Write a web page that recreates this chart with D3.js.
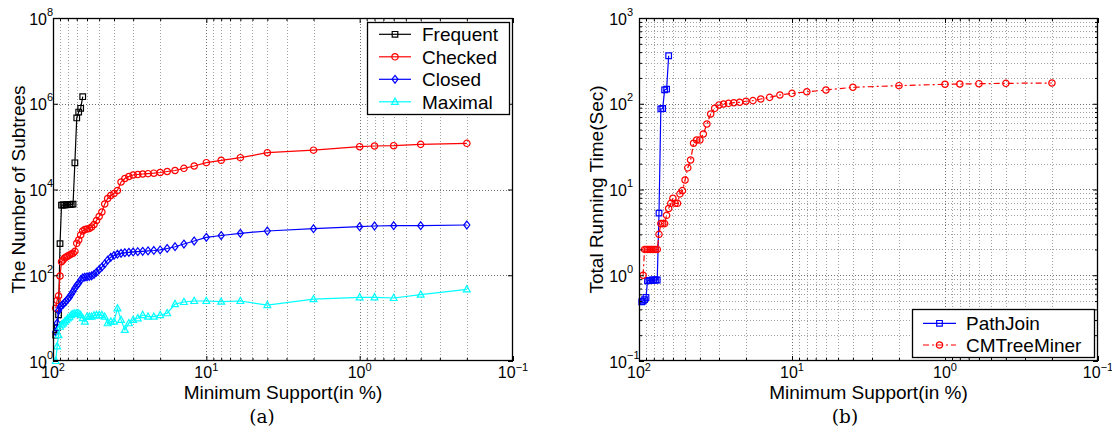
<!DOCTYPE html>
<html><head><meta charset="utf-8">
<script src="https://cdn.jsdelivr.net/npm/d3@7"></script>
<style>
html,body{margin:0;padding:0;background:#fff;}
svg{display:block;}
text{font-family:"Liberation Sans",Arial,Helvetica,sans-serif;fill:#000;}
</style></head>
<body>
<svg id="chart" width="1112" height="432"></svg>
<script>
// ---------- data ----------
const supportA = [96,94,92,90,88,86,84,82,80,78,76,74,72,70,68,66,64,62,60,58,56,54,52,50,48,46,44,42,40,38,36,34,32,30,28,26,24,22,20,18,16,14,12,10,8,6,4,2,1,0.8,0.6,0.4,0.2];
const frequentSupport = [96,94,92,90,88,86,84,82,80,78,76,74,72,70,68,66,64];
const frequentValues = [4,6,12,546,4300,4350,4400,4400,4450,4450,4500,4550,42000,466000,640000,783000,1460000];
const checkedValues = [17,26,33,96,207,227,253,267,281,296,313,325,360,556,664,868,1077,1166,1200,1233,1335,1527,1890,2345,2988,4590,6170,7240,8070,9480,14960,18070,20100,21800,22400,23000,23400,24000,24900,26300,27700,31200,35300,42200,48000,55200,72100,82600,99600,103500,105000,113000,119500];
const closedValues = [4.8,7.6,15,18,19.5,21,23,25,28,31,36,42,50,58,65,78,87,90,92,94,97,105,118,135,155,185,225,262,290,310,325,335,342,350,355,362,370,378,390,421,463,535,629,767,845,951,1077,1218,1356,1408,1430,1430,1486];
const maximalValues = [1,2.2,4,6.3,7,7.5,8.3,9,9.9,10.5,11.8,12.5,12.9,12.9,12.9,11.8,10,8.3,10.8,10.8,10.8,11.5,11.8,11.8,11.8,10.8,7.6,8.3,8.3,16.9,9.1,5.3,7.6,9.1,9.9,11.8,10.8,10.8,11.8,13,21.3,23.8,25.1,25.1,24.2,25.1,20.2,27.6,30.6,30.6,29.5,35.2,47];

const pathJoinSupport = [96,94,92,90,88,86,84,82,80,78,76,74,72,70,68,66,64];
const pathJoinValues = [0.49,0.5,0.52,0.55,0.86,0.87,0.87,0.88,0.88,0.88,0.88,5.3,87,88,145,148,363];
const cmSupport = [94,92,90,88,86,84,82,80,78,76,74,72,70,68,66,64,62,60,58,56,54,52,50,48,46,44,42,40,38,36,34,32,30,28,26,24,22,20,18,16,14,12,10,8,6,4,2,1,0.8,0.6,0.4,0.2];
const cmValues = [1.0,2,2,2,2,2,2,2,2,2,3.0,4,4,4,5,6,6.9,7.9,6.9,6.9,8.9,9.7,12.9,17.9,22.1,34.6,37.8,37.8,44.4,58,76,88.5,96.8,99.4,101,102.8,104,107,108.7,113.6,118.8,126.5,132,138,144.6,155.6,162.5,168.7,170,171.3,173,174.6];

const xTickExps = [2,1,0,-1];
const yTickExpsA = [0,2,4,6,8];
const yTickExpsB = [-1,0,1,2,3];
const xLabel = "Minimum Support(in %)";
const yLabelA = "The Number of Subtrees";
const yLabelB = "Total Running Time(Sec)";
const legendA = ["Frequent","Checked","Closed","Maximal"];
const legendB = ["PathJoin","CMTreeMiner"];

// ---------- drawing ----------
const svg = d3.select("#chart");

function markerPath(type){
  if(type==="square") return "M-2.8,-2.8H2.8V2.8H-2.8Z";
  if(type==="circle") return d3.symbol(d3.symbolCircle, 32)();
  if(type==="diamond") return "M0,-3.9L3,0L0,3.9L-3,0Z";
  if(type==="triangle") return "M0,-3.7L3.4,2.5L-3.4,2.5Z";
}

function supText(e){ return e<0 ? "\u2212"+(-e) : String(e); }

function panel(cfg){
  const g = svg.append("g");
  const x = d3.scaleLog().domain([100,0.1]).range([cfg.x0,cfg.x1]);
  const y = d3.scaleLog().domain(cfg.yDomain).range([cfg.y1,cfg.y0]);

  const xMinor = [];
  [1,0,-1].forEach(e=>{ for(let k=2;k<=9;k++) xMinor.push(k*Math.pow(10,e)); });
  const xMajor = [10,1];
  const gridG = g.append("g");
  const gl = (sel,color)=>sel.attr("stroke",color).attr("stroke-width",1).attr("stroke-dasharray","1,2");
  gl(gridG.selectAll(".vmin").data(xMinor).join("line")
    .attr("x1",d=>Math.round(x(d))+0.5).attr("x2",d=>Math.round(x(d))+0.5)
    .attr("y1",cfg.y0).attr("y2",cfg.y1),"#a0a0a0");
  gl(gridG.selectAll(".vmaj").data(xMajor).join("line")
    .attr("x1",d=>Math.round(x(d))+0.5).attr("x2",d=>Math.round(x(d))+0.5)
    .attr("y1",cfg.y0).attr("y2",cfg.y1),"#707070");
  gl(gridG.selectAll(".hmaj").data(cfg.yGridMajor).join("line")
    .attr("y1",d=>Math.round(y(d))+0.5).attr("y2",d=>Math.round(y(d))+0.5)
    .attr("x1",cfg.x0).attr("x2",cfg.x1),"#707070");
  gl(gridG.selectAll(".hmin").data(cfg.yGridMinor).join("line")
    .attr("y1",d=>Math.round(y(d))+0.5).attr("y2",d=>Math.round(y(d))+0.5)
    .attr("x1",cfg.x0).attr("x2",cfg.x1),"#a0a0a0");

  // series
  cfg.series.forEach(s=>{
    const pts = s.support.map((sv,i)=>[sv,s.values[i]]);
    g.append("path").datum(pts)
      .attr("fill","none").attr("stroke",s.color).attr("stroke-width",1.2)
      .attr("stroke-dasharray",s.dash||null)
      .attr("d",d3.line().x(d=>x(d[0])).y(d=>y(d[1])));
    g.append("g").selectAll("path").data(pts).join("path")
      .attr("transform",d=>`translate(${x(d[0])},${y(d[1])})`)
      .attr("d",markerPath(s.marker))
      .attr("fill","none").attr("stroke",s.color).attr("stroke-width",1.2);
  });

  // frame
  g.append("rect").attr("x",cfg.x0+0.5).attr("y",cfg.y0+0.5)
    .attr("width",cfg.x1-cfg.x0-1).attr("height",cfg.y1-cfg.y0-1)
    .attr("fill","none").attr("stroke","#000").attr("stroke-width",1.3);

  // inward ticks
  const xTickVals = xTickExps.map(e=>Math.pow(10,e));
  const axes=[];
  axes.push(g.append("g").attr("transform",`translate(0,${cfg.y1})`)
    .call(d3.axisTop(x).tickValues(xTickVals).tickSize(5).tickFormat("")));
  axes.push(g.append("g").attr("transform",`translate(0,${cfg.y1})`)
    .call(d3.axisTop(x).tickValues(xMinor).tickSize(3).tickFormat("")));
  axes.push(g.append("g").attr("transform",`translate(0,${cfg.y0})`)
    .call(d3.axisBottom(x).tickValues(xTickVals).tickSize(5).tickFormat("")));
  axes.push(g.append("g").attr("transform",`translate(0,${cfg.y0})`)
    .call(d3.axisBottom(x).tickValues(xMinor).tickSize(3).tickFormat("")));
  const yTickVals = cfg.yTickExps.map(e=>Math.pow(10,e));
  axes.push(g.append("g").attr("transform",`translate(${cfg.x0},0)`)
    .call(d3.axisRight(y).tickValues(yTickVals).tickSize(5).tickFormat("")));
  axes.push(g.append("g").attr("transform",`translate(${cfg.x1},0)`)
    .call(d3.axisLeft(y).tickValues(yTickVals).tickSize(5).tickFormat("")));
  if(cfg.yGridMinor.length){
    axes.push(g.append("g").attr("transform",`translate(${cfg.x0},0)`)
      .call(d3.axisRight(y).tickValues(cfg.yGridMinor).tickSize(3).tickFormat("")));
    axes.push(g.append("g").attr("transform",`translate(${cfg.x1},0)`)
      .call(d3.axisLeft(y).tickValues(cfg.yGridMinor).tickSize(3).tickFormat("")));
  }
  axes.forEach(a=>{ a.select(".domain").remove(); a.selectAll("line").attr("stroke","#000"); });

  // x tick labels
  xTickExps.forEach(e=>{
    const t = g.append("text").attr("x",x(Math.pow(10,e))).attr("y",cfg.y1+17)
      .attr("text-anchor","middle").style("font-size","16px");
    t.append("tspan").text("10");
    t.append("tspan").attr("dy",-7).style("font-size","11px").text(supText(e));
  });
  // y tick labels
  cfg.yTickExps.forEach(e=>{
    const yy = y(Math.pow(10,e));
    g.append("text").attr("x",cfg.x0-cfg.labelGap).attr("y",yy+6.5)
      .attr("text-anchor","end").style("font-size","16px").text("10");
    g.append("text").attr("x",cfg.x0-cfg.labelGap).attr("y",yy-2.3)
      .attr("text-anchor","start").style("font-size","11px").text(supText(e));
  });

  // axis titles
  g.append("text").attr("x",(cfg.x0+cfg.x1)/2).attr("y",398.5)
    .attr("text-anchor","middle").style("font-size","19px").text(xLabel);
  g.append("text").attr("transform",`translate(${cfg.yLabelX},${(cfg.y0+cfg.y1)/2}) rotate(-90)`)
    .attr("text-anchor","middle").style("font-size","19px").text(cfg.yLabel);
  g.append("text").attr("x",cfg.capX).attr("y",422.5)
    .attr("text-anchor","middle").style("font-family","'DejaVu Serif','Liberation Serif',serif")
    .style("font-size","18.5px").text(cfg.caption);

  // legend
  const L = cfg.legend;
  const lg = g.append("g");
  lg.append("rect").attr("x",L.x+0.5).attr("y",L.y+0.5).attr("width",L.w).attr("height",L.h)
    .attr("fill","#fff").attr("stroke","#000").attr("stroke-width",1.3);
  cfg.series.forEach((s,i)=>{
    const cy = L.y + L.first + i*L.step;
    lg.append("line").attr("x1",L.x+L.lx1).attr("x2",L.x+L.lx2).attr("y1",cy).attr("y2",cy)
      .attr("stroke",s.color).attr("stroke-width",1.2).attr("stroke-dasharray",s.dash||null);
    lg.append("path").attr("transform",`translate(${L.x+(L.lx1+L.lx2)/2},${cy})`)
      .attr("d",markerPath(s.marker)).attr("fill","none").attr("stroke",s.color).attr("stroke-width",1.2);
    lg.append("text").attr("x",L.x+L.tx).attr("y",cy+7).style("font-size","19px").text(s.name);
  });
}

panel({
  x0:53,x1:513,y0:18,y1:361,yDomain:[1,1e8],
  yTickExps:yTickExpsA, yGridMajor:[1e2,1e4,1e6], yGridMinor:[],
  labelGap:6, yLabel:yLabelA, yLabelX:25, caption:"(a)", capX:262,
  series:[
    {name:legendA[0],support:frequentSupport,values:frequentValues,color:"#000000",marker:"square"},
    {name:legendA[1],support:supportA,values:checkedValues,color:"#ff0000",marker:"circle"},
    {name:legendA[2],support:supportA,values:closedValues,color:"#0000ff",marker:"diamond"},
    {name:legendA[3],support:supportA,values:maximalValues,color:"#00ffff",marker:"triangle"}
  ],
  legend:{x:367,y:22,w:142,h:92,first:12.3,step:22.5,lx1:12,lx2:44,tx:55}
});

const yMinorB=[];
[-1,0,1,2].forEach(e=>{ for(let k=2;k<=9;k++) yMinorB.push(k*Math.pow(10,e)); });
panel({
  x0:639,x1:1098,y0:18,y1:361,yDomain:[0.1,1000],
  yTickExps:yTickExpsB, yGridMajor:[1,10,100], yGridMinor:yMinorB,
  labelGap:12, yLabel:yLabelB, yLabelX:603, caption:"(b)", capX:845,
  series:[
    {name:legendB[0],support:pathJoinSupport,values:pathJoinValues,color:"#0000ff",marker:"square"},
    {name:legendB[1],support:cmSupport,values:cmValues,color:"#ff0000",marker:"circle",dash:"6,3,2,3"}
  ],
  legend:{x:912,y:309,w:182,h:48,first:14.3,step:21.7,lx1:11,lx2:44,tx:54}
});
</script>
</body></html>
